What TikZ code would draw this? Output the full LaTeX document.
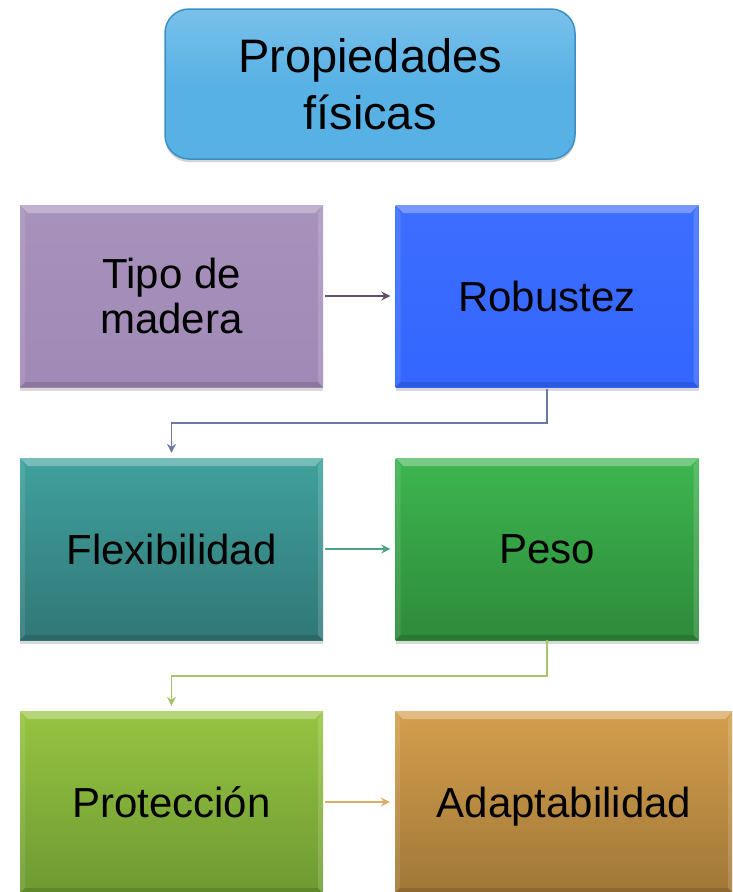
\documentclass[tikz,border=0pt]{standalone}
\usepackage{fontspec}
\setmainfont{Liberation Sans}
\usetikzlibrary{shapes,arrows,arrows.meta,positioning,shadows}
\definecolor{titlefill}{HTML}{58B1E5}
\definecolor{titleedge}{HTML}{3C8FC6}
\definecolor{tipofill}{HTML}{A089B6}
\definecolor{robfill}{HTML}{3366FF}
\definecolor{flextop}{HTML}{3FA19D}
\definecolor{flexbot}{HTML}{317777}
\definecolor{pesotop}{HTML}{3DB650}
\definecolor{pesobot}{HTML}{2E8A3A}
\definecolor{prottop}{HTML}{97C441}
\definecolor{protbot}{HTML}{6D9A31}
\definecolor{adaptop}{HTML}{D49F4D}
\definecolor{adapbot}{HTML}{A07737}
\tikzstyle{bevel} = [path picture={
      \fill[white, opacity=0.3] (path picture bounding box.north west) -- (path picture bounding box.north east) -- ([xshift=-8pt,yshift=-8pt]path picture bounding box.north east) -- ([xshift=8pt,yshift=-8pt]path picture bounding box.north west) -- cycle;
      \fill[white, opacity=0.15] (path picture bounding box.north east) -- (path picture bounding box.south east) -- ([xshift=-5pt,yshift=5pt]path picture bounding box.south east) -- ([xshift=-5pt,yshift=-8pt]path picture bounding box.north east) -- cycle;
      \fill[white, opacity=0.1] (path picture bounding box.north west) -- (path picture bounding box.south west) -- ([xshift=5pt,yshift=5pt]path picture bounding box.south west) -- ([xshift=5pt,yshift=-8pt]path picture bounding box.north west) -- cycle;
      \fill[black, opacity=0.12] (path picture bounding box.south west) -- (path picture bounding box.south east) -- ([xshift=-5pt,yshift=5pt]path picture bounding box.south east) -- ([xshift=5pt,yshift=5pt]path picture bounding box.south west) -- cycle;}]
\tikzstyle{title} = [rectangle, draw=titleedge, line width=1.5pt, top color=titlefill!80!white, bottom color=titlefill, middle color=titlefill, rounded corners=24pt, minimum width=410pt, minimum height=150pt, align=center, font=\fontsize{47}{57}\selectfont, drop shadow={shadow xshift=0pt, shadow yshift=-3pt, opacity=0.35}]
\tikzstyle{block} = [rectangle, bevel, minimum width=303pt, minimum height=182pt, align=center, font=\fontsize{42}{45}\selectfont, text depth=0pt, drop shadow={shadow xshift=0pt, shadow yshift=-4pt, opacity=0.3}]
\tikzstyle{line} = [draw, line width=1.8pt, -{Stealth[length=9pt,width=9pt,inset=3pt]}, shorten <=2pt, shorten >=5pt]

\begin{document}
\begin{tikzpicture}[node distance = 375.5pt, auto]
      \useasboundingbox (0,0) rectangle (732pt,-892pt);
      \clip (0,0) rectangle (732pt,-892pt);
      % Place nodes
      \node [title] (props) at (370pt,-84pt) {Propiedades\\físicas};
      \node [block, top color=tipofill!92!white, bottom color=tipofill] (tipo) at (171.5pt,-296pt) {Tipo de\\madera};
      \node [block, top color=robfill!95!white, bottom color=robfill, right of=tipo] (rob) {Robustez};
      \node [block, top color=flextop, bottom color=flexbot, below of=tipo, node distance=253pt] (flex) {Flexibilidad};
      \node [block, top color=pesotop, bottom color=pesobot, right of=flex] (peso) {Peso};
      \node [block, top color=prottop, bottom color=protbot, below of=flex, node distance=253pt] (prot) {Protección};
      \node [block, top color=adaptop, bottom color=adapbot, minimum width=338pt, right of=prot, node distance=392.5pt] (adap) {Adaptabilidad};

      % Draw edges
      \path [line, draw=tipofill!60!black] (tipo) -- (rob);
      \path [line, draw=robfill!30!gray] (rob.south) -- ++(0,-35.5pt) -| (flex.north);
      \path [line, draw=flextop!80!green!70!gray] (flex) -- (peso);
      \path [line, draw=prottop!80!white!85!gray, shorten <=0pt] (peso.south) -- ++(0,-35.5pt) -| (prot.north);
      \path [line, draw=adaptop!85!white] (prot) -- (adap);
    \end{tikzpicture}
\end{document}
